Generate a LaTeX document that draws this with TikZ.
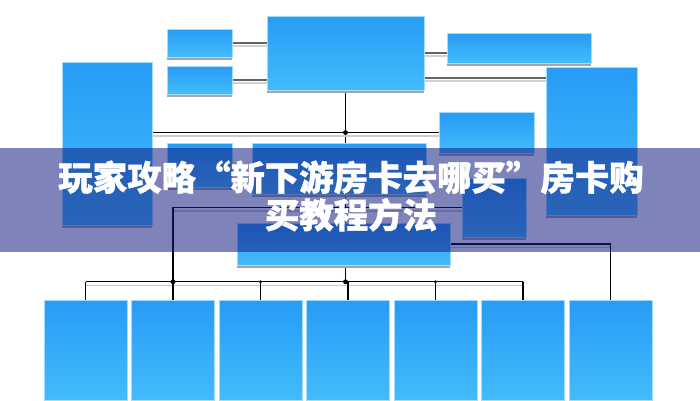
\documentclass[tikz,border=0pt]{standalone}
\usepackage{fontspec}
\newfontfamily\cjk{Noto Sans CJK SC}[BoldFeatures = {FakeBold = 1.2}]
\usetikzlibrary{calc, fit, shadows, backgrounds}
\definecolor{boxtop}{RGB}{40, 155, 245}
\definecolor{boxbot}{RGB}{68, 187, 252}
\definecolor{bandcol}{RGB}{20, 30, 130}
\definecolor{lnkgray}{RGB}{100, 100, 100}

\begin{document}
\begin{tikzpicture}[
    x = 0.02cm, y = -0.02cm,
    blk/.style = {inner sep = 0pt, top color = boxtop, bottom color = boxbot, draw = boxbot!50!white, line width = 0.3pt,
        drop shadow = {shadow xshift = 0pt, shadow yshift = -0.06cm, fill = black!35, opacity = 1}},
    blkb/.style = {inner sep = 0pt, top color = boxtop, bottom color = boxbot, draw = boxbot!50!white, line width = 0.3pt},
    lnk/.style = {draw = lnkgray, line width = 1pt, preaction = {draw = black!18, line width = 1pt, transform canvas = {yshift = -1.8pt}}},
    hln/.style = {draw = black, line width = 0.6pt, preaction = {draw = black!20, line width = 0.8pt, transform canvas = {yshift = -2pt}}},
    vln/.style = {draw = black, line width = 0.6pt},
]
\useasboundingbox (0,0) rectangle (700,400);

% boxes
\node[blk, fit = {(267,16) (424,90)}] (top) {};
\node[blk, fit = {(167,29) (232,57)}] (tla) {};
\node[blk, fit = {(167,66) (232,94)}] (tlb) {};
\node[blk, fit = {(167,143) (232,187)}] (tlc) {};
\node[blk, fit = {(447,33) (591,63)}] (tr) {};
\node[blk, fit = {(62,62) (152,225)}] (lt) {};
\node[blk, fit = {(546,67) (637,215)}] (rt) {};
\node[blk, fit = {(439,112) (534,153)}] (mra) {};
\node[blk, fit = {(462,178) (526,237)}] (mrb) {};
\node[blk, fit = {(252,143) (426,194)}] (mb) {};
\node[blk, fit = {(237,223) (450,265)}] (cb) {};
\foreach \i in {1,...,7}
    \node[blkb, fit = {({44+87.5*(\i-1)},300) ({127+87.5*(\i-1)},400)}] (b\i) {};

\coordinate (busL) at ([yshift = 0.36cm]b1.north);

\begin{scope}[on background layer]
\draw[lnk] (tla.east) -- (tla.east -| top.west);
\draw[lnk] (tlb.east) -- (tlb.east -| top.west);
\draw[lnk] (top.east) -- (top.east -| tr.west);
\draw[lnk] ([yshift = -0.5cm]top.east) -- ([yshift = -0.5cm]top.east -| rt.west);

\draw[vln] (top.south) -- (top.south |- busL);
\draw[hln] (mra.west) -- (mra.west -| lt.east);
\draw[hln] (busL) -- (busL -| b6.north);
\draw[hln] (mrb.west) -| (b2.north);
\draw[hln] (cb.east) -| (b7.north);
\foreach \i in {1,...,6}
    \draw[vln] (busL -| b\i.north) -- (b\i.north);
\end{scope}

\fill (top.south |- mra.west) circle (1.4pt);
\fill (top.south |- busL) circle (1.4pt);
\fill (busL -| b2.north) circle (1.4pt);
\fill (busL -| b3.north) circle (0.9pt);
\fill (busL -| b5.north) circle (0.9pt);

% title band
\fill[bandcol, fill opacity = 0.55] (0,148) rectangle (700,252);
\node[text = white, align = center, font = \cjk\bfseries\fontsize{19.6pt}{21.4pt}\selectfont] (title) at (351,196)
    {玩家攻略“新下游房卡去哪买”房卡购\\买教程方法};

\end{tikzpicture}
\end{document}
